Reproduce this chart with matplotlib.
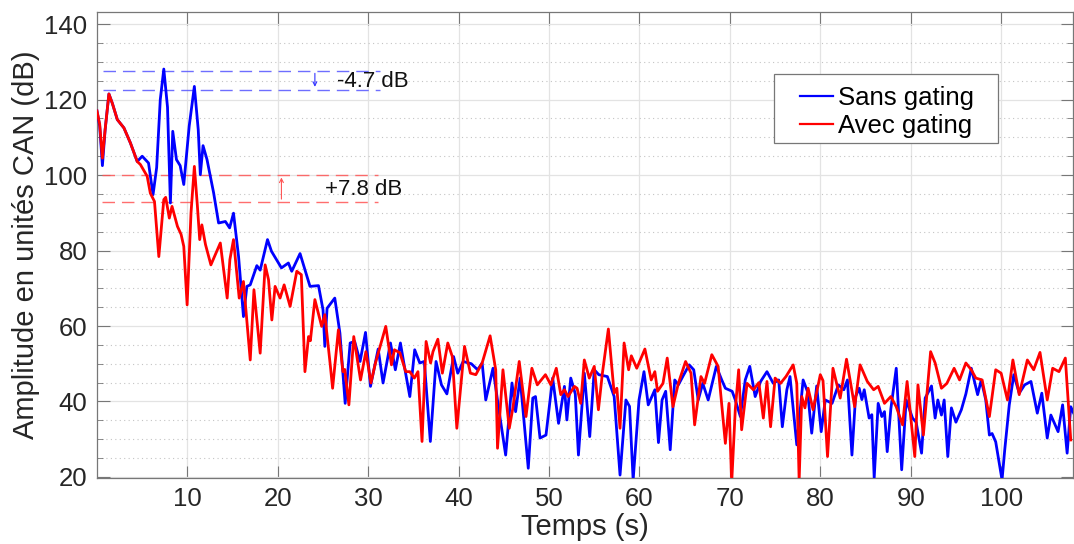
import matplotlib
matplotlib.use('Agg')
import matplotlib.pyplot as plt
from matplotlib.patches import Rectangle
from matplotlib.ticker import MultipleLocator, NullLocator

plt.rcParams['font.family'] = ['Liberation Sans', 'DejaVu Sans']

# Sans gating (blue) : (temps, amplitude)
sans_t = [0.0, 0.3, 0.6, 0.9, 1.32, 1.7, 2.25, 2.98, 3.7, 4.45, 5.0, 5.7, 6.2, 6.6, 7.0, 7.39, 7.8,
          8.12, 8.38, 8.79, 9.2, 9.6, 10.2, 10.77, 11.2, 11.43, 11.73, 12.17, 12.9, 13.45, 14.2, 14.67,
          15.1, 15.66, 16.2, 16.58, 16.95, 17.68, 18.05, 18.86, 19.3, 20.4, 21.17, 21.54, 22.46, 23.56,
          24.5, 25.0, 25.2, 25.45, 26.3, 26.87, 27.45, 28.0, 28.5, 29.1, 29.7, 30.25, 31.1, 31.64, 32.46,
          33.0, 33.56, 34.0, 34.6, 35.14, 35.7, 36.2, 36.87, 37.5, 38.1, 38.7, 39.44, 39.9, 40.5, 41.4,
          42.1, 42.6, 43.0, 43.8, 44.4, 45.2, 45.9, 46.3, 46.8, 47.7, 48.2, 48.5, 49.0, 49.66, 50.4,
          51.05, 51.7, 51.97, 52.4, 52.9, 53.25, 53.9, 54.5, 55.0, 55.5, 56.45, 57.2, 57.85, 58.5, 58.9,
          59.3, 59.95, 60.5, 60.97, 61.7, 62.1, 62.5, 62.9, 63.4, 63.9, 64.3, 64.9, 65.5, 66.0, 66.5,
          67.0, 67.6, 68.5, 69.1, 69.5, 70.25, 70.6, 71.16, 71.7, 72.2, 72.8, 73.4, 74.1, 74.8, 75.4,
          75.8, 76.3, 76.65, 77.4, 78.1, 78.6, 79.05, 79.6, 80.1, 80.55, 81.3, 82.0, 82.6, 83.0, 83.5,
          83.9, 84.3, 84.6, 84.86, 85.4, 85.7, 85.96, 86.4, 86.8, 87.1, 87.4, 87.8, 88.4, 89.0, 89.5,
          90.2, 90.6, 91.2, 91.6, 92.3, 92.7, 93.0, 93.4, 93.7, 94.1, 94.5, 95.0, 95.6, 96.1, 96.7,
          97.4, 97.8, 98.3, 98.7, 99.0, 99.4, 99.8, 100.1, 100.4, 100.9, 101.4, 102.0, 102.6, 103.3,
          104.0, 104.5, 105.1, 105.5, 106.3, 106.8, 107.3, 107.7, 108.0]
sans_db = [117.0, 113.0, 102.5, 112.0, 121.5, 119.0, 114.7, 112.5, 108.5, 103.6, 105.0, 103.2, 94.8, 102.0,
           120.0, 128.1, 118.0, 92.6, 111.6, 104.1, 102.5, 97.5, 113.0, 123.5, 112.0, 100.1, 107.8, 104.1,
           95.3, 87.3, 87.7, 86.0, 89.9, 78.4, 62.5, 70.5, 70.9, 76.0, 74.8, 82.9, 79.8, 75.4, 76.7, 74.5,
           79.2, 70.5, 70.7, 64.3, 54.6, 64.7, 67.4, 58.1, 39.5, 55.5, 55.9, 50.6, 58.3, 44.0, 53.9, 44.9,
           55.5, 48.4, 55.5, 49.3, 41.3, 53.7, 50.2, 50.6, 29.4, 50.6, 44.4, 42.0, 51.9, 47.5, 50.6, 50.0,
           48.4, 50.2, 40.4, 48.8, 38.6, 25.8, 44.9, 37.3, 46.2, 22.3, 40.9, 41.3, 30.3, 31.1, 46.2, 34.2,
           44.0, 35.1, 46.2, 42.0, 25.8, 47.5, 30.7, 48.4, 47.1, 46.6, 41.3, 20.5, 40.4, 38.7, 19.2, 40.4,
           47.9, 39.1, 43.1, 29.1, 40.4, 42.7, 27.2, 45.7, 44.4, 47.1, 49.7, 48.4, 40.4, 44.8, 40.4, 49.3,
           45.7, 43.5, 42.7, 40.4, 36.0, 45.7, 49.3, 41.3, 45.3, 47.9, 44.8, 45.7, 33.3, 43.1, 46.6, 28.5,
           45.7, 42.5, 31.6, 44.1, 32.0, 40.4, 39.5, 44.4, 43.1, 45.7, 25.8, 41.3, 43.5, 40.5, 43.1, 35.6,
           36.5, 19.7, 39.5, 36.0, 37.3, 26.7, 38.0, 48.8, 21.9, 40.4, 35.6, 34.5, 26.3, 40.9, 44.1, 35.6,
           40.4, 36.4, 40.4, 25.4, 38.3, 34.5, 37.8, 42.0, 48.8, 41.8, 45.7, 40.4, 31.1, 31.5, 29.3, 23.6,
           19.2, 27.2, 39.1, 47.1, 42.2, 44.4, 45.3, 36.9, 42.2, 30.3, 36.4, 32.0, 39.1, 26.3, 38.6, 37.0]

# Avec gating (red)
avec_t = [0.0, 0.3, 0.6, 0.9, 1.32, 1.7, 2.25, 2.98, 3.7, 4.45, 4.8, 5.55, 5.9, 6.36, 6.84, 7.39, 7.6,
          8.0, 8.3, 8.9, 9.3, 9.6, 9.97, 10.4, 10.77, 11.1, 11.36, 11.6, 12.0, 12.6, 13.64, 14.4, 14.7,
          15.1, 15.73, 16.2, 16.95, 17.36, 18.05, 18.6, 18.97, 19.34, 19.7, 20.25, 20.7, 21.36, 22.1,
          22.6, 23.0, 23.4, 23.6, 24.1, 24.85, 25.2, 25.8, 26.06, 26.7, 27.2, 27.4, 27.86, 28.4, 29.15,
          29.74, 30.3, 30.8, 31.94, 32.57, 32.9, 33.5, 34.15, 34.6, 35.1, 35.5, 35.95, 36.4, 36.9, 37.16,
          37.7, 38.2, 38.8, 39.3, 39.8, 40.65, 41.3, 41.9, 42.6, 43.48, 44.1, 44.3, 44.9, 45.6, 46.0,
          46.7, 47.45, 48.1, 48.7, 49.6, 50.2, 50.8, 51.3, 51.7, 52.1, 52.8, 53.1, 53.5, 53.9, 54.45,
          55.0, 55.46, 55.9, 56.56, 57.2, 57.5, 57.85, 58.3, 58.8, 59.1, 59.7, 60.6, 61.3, 61.7, 62.0,
          62.6, 63.07, 63.7, 64.3, 65.1, 65.7, 66.1, 66.8, 67.2, 68.0, 68.7, 69.5, 69.9, 70.2, 70.6,
          70.97, 71.3, 71.9, 72.6, 73.2, 73.7, 74.1, 74.5, 75.0, 75.6, 76.2, 77.0, 77.4, 77.66, 77.95,
          78.3, 78.65, 79.2, 80.0, 80.3, 80.8, 81.4, 82.2, 82.9, 83.8, 84.4, 85.2, 85.9, 86.4, 87.1,
          87.8, 88.4, 89.1, 89.6, 90.0, 90.45, 90.8, 91.4, 92.2, 92.7, 93.4, 94.0, 94.8, 95.4, 96.1,
          96.7, 97.2, 97.9, 98.7, 99.4, 100.0, 100.7, 101.3, 102.0, 102.9, 103.6, 104.3, 105.1, 105.7,
          106.4, 107.1, 107.7]
avec_db = [117.0, 113.5, 104.5, 112.0, 121.5, 119.0, 114.7, 112.5, 108.5, 103.6, 102.8, 99.7, 95.2, 93.0,
           78.4, 93.5, 94.1, 88.6, 91.7, 86.4, 84.3, 81.1, 65.6, 90.0, 102.3, 92.0, 82.9, 86.8, 81.6, 76.2,
           82.0, 67.4, 77.6, 82.9, 67.4, 71.8, 51.0, 69.6, 52.8, 76.2, 72.3, 61.6, 70.5, 67.4, 70.9, 65.2,
           74.5, 73.6, 47.9, 57.2, 56.1, 67.0, 59.9, 63.0, 49.7, 43.5, 59.0, 47.9, 48.5, 39.1, 57.2, 45.7,
           53.2, 44.9, 50.2, 59.9, 49.7, 53.7, 52.9, 47.9, 47.9, 46.2, 47.9, 29.4, 55.9, 50.2, 53.2, 56.5,
           47.5, 55.5, 51.9, 32.9, 54.6, 47.5, 47.1, 50.2, 57.4, 48.4, 27.6, 48.4, 32.9, 38.3, 50.6, 36.0,
           48.8, 44.4, 47.1, 44.4, 48.8, 41.8, 43.1, 41.3, 44.0, 43.5, 39.5, 51.0, 46.2, 49.3, 37.8, 47.5,
           59.2, 42.2, 43.5, 32.9, 55.5, 48.4, 52.1, 48.8, 53.9, 45.7, 47.9, 42.7, 44.8, 51.5, 38.6, 44.8,
           50.6, 47.5, 33.8, 46.6, 44.8, 52.4, 49.3, 28.9, 39.5, 18.5, 38.0, 48.4, 32.5, 44.8, 43.1, 45.0,
           35.6, 45.3, 33.3, 46.2, 44.8, 46.6, 49.7, 44.8, 19.0, 41.3, 38.3, 43.5, 37.8, 47.1, 45.5, 25.4,
           48.8, 40.9, 51.2, 38.6, 49.7, 45.3, 43.1, 44.0, 39.5, 41.3, 38.6, 33.8, 45.3, 36.0, 25.4, 44.4,
           31.1, 53.2, 50.2, 43.5, 44.8, 48.8, 45.7, 50.2, 48.4, 46.2, 45.7, 36.0, 48.4, 47.5, 40.4, 51.0,
           41.8, 51.0, 48.4, 53.0, 40.4, 48.8, 47.9, 51.5, 29.8]

# annotation levels (dB)
pic_sans = [127.7, 122.65]
pic_avec = [100.1, 92.9]

fig = plt.figure(figsize=(10.74, 5.44), dpi=100)
ax = fig.add_axes([0.0903, 0.1219, 0.9092, 0.8566])

ax.plot(sans_t, sans_db, color='#0000ff', lw=2.0, label='Sans gating', zorder=3,
        solid_joinstyle='round')
ax.plot(avec_t, avec_db, color='#ff0000', lw=2.0, label='Avec gating', zorder=4,
        solid_joinstyle='round')

# dashed reference levels with arrows
for lev in pic_sans:
    ax.plot([0.7, 31.3], [lev, lev], color='#5555ff', lw=1.0, dashes=(9, 5), alpha=0.85, zorder=2)
for lev in pic_avec:
    ax.plot([0.6, 31.1], [lev, lev], color='#ff5555', lw=1.0, dashes=(9, 5), alpha=0.85, zorder=2)
ax.annotate('', xy=(24.1, pic_sans[1]), xytext=(24.1, pic_sans[0]),
            arrowprops=dict(arrowstyle='->', color='#3333ff', lw=0.8, mutation_scale=7))
ax.annotate('', xy=(20.4, pic_avec[0]), xytext=(20.4, pic_avec[1]),
            arrowprops=dict(arrowstyle='->', color='#ff5555', lw=0.8, mutation_scale=7))
ax.text(26.5, 124.9, '-4.7 dB', fontsize=16, va='center', ha='left', color='#111111')
ax.text(25.2, 96.3, '+7.8 dB', fontsize=16, va='center', ha='left', color='#111111')

ax.set_xlim(0, 108)
ax.set_ylim(19.8, 143.3)
ax.set_xticks(range(10, 101, 10))
ax.set_yticks(range(20, 141, 20))
ax.xaxis.set_minor_locator(NullLocator())
ax.yaxis.set_minor_locator(MultipleLocator(5))

ax.grid(True, which='major', color='#e3e3e3', lw=0.9, ls='-')
ax.grid(True, which='minor', axis='y', color='#c4c4c4', lw=0.8, ls=(0, (1, 3)))
ax.set_axisbelow(True)

ax.tick_params(which='both', direction='in', top=True, right=True, colors='#777777',
               labelcolor='#262626', labelsize=18.5, pad=7)
ax.tick_params(which='major', length=9, width=0.8)
ax.tick_params(which='minor', length=4.5, width=0.6)
for sp in ax.spines.values():
    sp.set_color('#777777')
    sp.set_linewidth(0.9)

ax.set_xlabel('Temps (s)', fontsize=21, color='#262626', labelpad=1)
ax.set_ylabel('Amplitude en unités CAN (dB)', fontsize=21, color='#262626', labelpad=3)

# legend box drawn separately so the padding matches
ax.add_patch(Rectangle((0.6933, 0.7182), 0.2294, 0.1481, transform=ax.transAxes,
                       facecolor='white', edgecolor='#777777', lw=0.9, zorder=5))
leg = ax.legend(loc='center left', bbox_to_anchor=(0.7199, 0.7845), fontsize=18.5, frameon=False,
                handlelength=1.3, handletextpad=0.2, borderpad=0, labelspacing=0.16,
                borderaxespad=0)
leg.set_zorder(6)
for line in leg.get_lines():
    line.set_linewidth(1.6)

fig.savefig('out.png', dpi=100)
